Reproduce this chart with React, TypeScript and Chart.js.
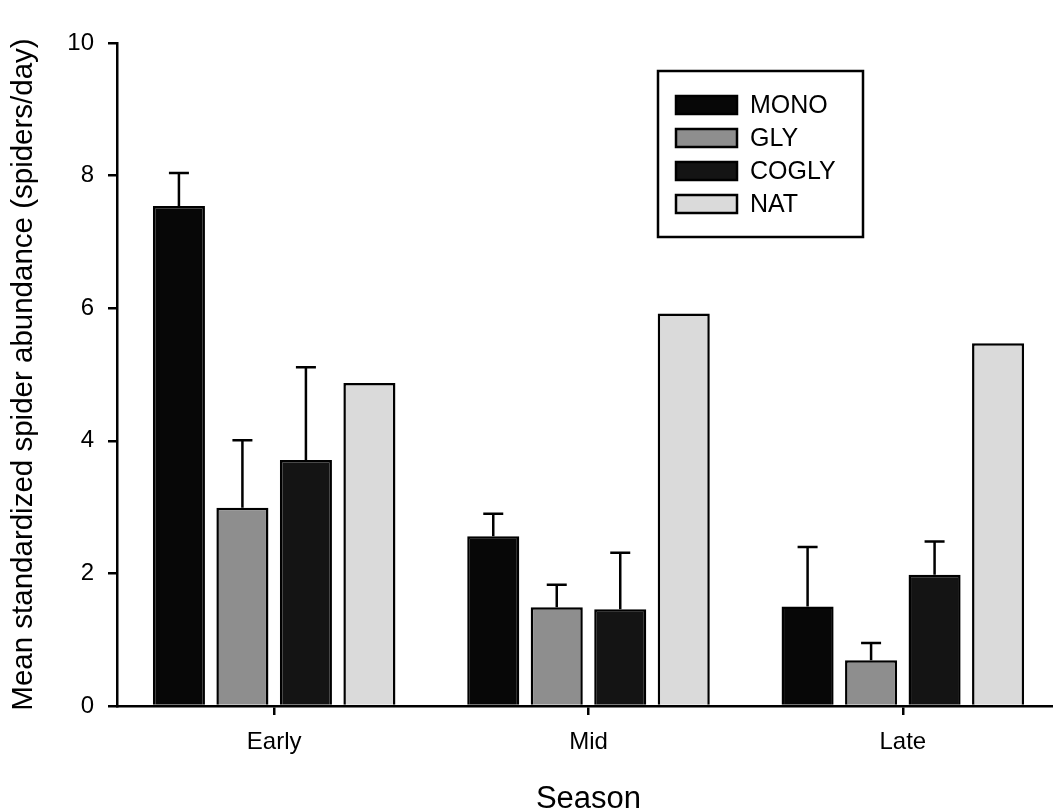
import React, { useEffect, useRef } from "react";
import { Chart, registerables } from "chart.js";

Chart.register(...registerables);

const seasons = ["Early", "Mid", "Late"];
const seriesNames = ["MONO", "GLY", "COGLY", "NAT"];
const monoMeans = [7.54, 2.56, 1.5];
const glyMeans = [2.99, 1.49, 0.69];
const coglyMeans = [3.71, 1.46, 1.98];
const natMeans = [4.87, 5.92, 5.47];
const monoErr = [0.5, 0.34, 0.9];
const glyErr = [1.02, 0.34, 0.26];
const coglyErr = [1.4, 0.85, 0.5];
const natErr = [null, null, null];
const yTicks = [0, 2, 4, 6, 8, 10];

const fillColors = ["#070707", "#8e8e8e", "#141414", "#dadada"];
const FONT = "'Liberation Sans', Arial, sans-serif";

const errorBarPlugin = {
  id: "errorBars",
  afterDatasetsDraw(chart: any) {
    const ctx = chart.ctx;
    const yScale = chart.scales.y;
    ctx.save();
    ctx.strokeStyle = "#000";
    ctx.lineWidth = 2.5;
    chart.data.datasets.forEach((ds: any, di: number) => {
      const meta = chart.getDatasetMeta(di);
      meta.data.forEach((el: any, i: number) => {
        const e = ds.errors ? ds.errors[i] : null;
        if (e == null) return;
        const top = yScale.getPixelForValue(ds.data[i] + e);
        ctx.beginPath();
        ctx.moveTo(el.x, el.y);
        ctx.lineTo(el.x, top);
        ctx.moveTo(el.x - 10, top);
        ctx.lineTo(el.x + 10, top);
        ctx.stroke();
      });
    });
    ctx.restore();
  },
};

const legendPlugin = {
  id: "boxLegend",
  afterDraw(chart: any) {
    const ctx = chart.ctx;
    const a = chart.chartArea;
    const x0 = a.left + 541;
    const y0 = a.top + 28;
    const w = 205;
    const h = 166;
    ctx.save();
    ctx.fillStyle = "#fff";
    ctx.fillRect(x0, y0, w, h);
    ctx.strokeStyle = "#000";
    ctx.lineWidth = 2.5;
    ctx.strokeRect(x0, y0, w, h);
    ctx.font = `25px ${FONT}`;
    ctx.textBaseline = "middle";
    chart.data.datasets.forEach((ds: any, i: number) => {
      const cy = y0 + 34 + i * 33;
      ctx.fillStyle = ds.backgroundColor;
      ctx.fillRect(x0 + 18, cy - 9, 61, 18);
      ctx.strokeRect(x0 + 18, cy - 9, 61, 18);
      ctx.fillStyle = "#000";
      ctx.fillText(ds.label, x0 + 92, cy + 1);
    });
    ctx.restore();
  },
};

export default function App() {
  const ref = useRef<HTMLCanvasElement>(null);
  useEffect(() => {
    document.body.style.margin = "0";
    const means = [monoMeans, glyMeans, coglyMeans, natMeans];
    const errs = [monoErr, glyErr, coglyErr, natErr];
    const chart = new Chart(ref.current!, {
      type: "bar",
      data: {
        labels: seasons,
        datasets: seriesNames.map((n, i) => ({
          label: n,
          data: means[i],
          errors: errs[i],
          backgroundColor: fillColors[i],
          borderColor: "#000",
          borderWidth: 2.5,
          categoryPercentage: 0.808,
          barPercentage: 0.82,
        })) as any,
      },
      options: {
        responsive: false,
        animation: false,
        layout: { padding: { top: 43, right: 0, left: 0, bottom: 0 } },
        plugins: {
          legend: { display: false },
          tooltip: { enabled: false },
        },
        scales: {
          x: {
            offset: true,
            border: { color: "#000", width: 2.5 },
            grid: {
              offset: false,
              drawOnChartArea: false,
              drawTicks: true,
              tickLength: 9,
              color: "#000",
              lineWidth: 2.5,
            },
            ticks: { color: "#000", font: { family: FONT, size: 24 }, padding: 13 },
            title: {
              display: true,
              text: "Season",
              color: "#000",
              font: { family: FONT, size: 31 },
              padding: { top: 22, bottom: -10 },
            },
            afterFit(scale: any) {
              scale.height = 102;
            },
          },
          y: {
            min: 0,
            max: 10,
            afterBuildTicks(scale: any) {
              scale.ticks = yTicks.map((v) => ({ value: v }));
            },
            border: { color: "#000", width: 2.5 },
            grid: {
              drawOnChartArea: false,
              drawTicks: true,
              tickLength: 9,
              color: "#000",
              lineWidth: 2.5,
            },
            ticks: { color: "#000", font: { family: FONT, size: 24 }, padding: 14 },
            title: {
              display: true,
              text: "Mean standardized spider abundance (spiders/day)",
              color: "#000",
              font: { family: FONT, size: 29.5 },
              padding: { top: 6, bottom: 0 },
            },
            afterFit(scale: any) {
              scale.width = 117;
            },
          },
        },
      },
      plugins: [errorBarPlugin, legendPlugin],
    });
    return () => chart.destroy();
  }, []);
  return (
    <div style={{ width: 1053, height: 808, overflow: "hidden" }}>
      <canvas ref={ref} width={1060} height={808} style={{ display: "block" }} />
    </div>
  );
}
